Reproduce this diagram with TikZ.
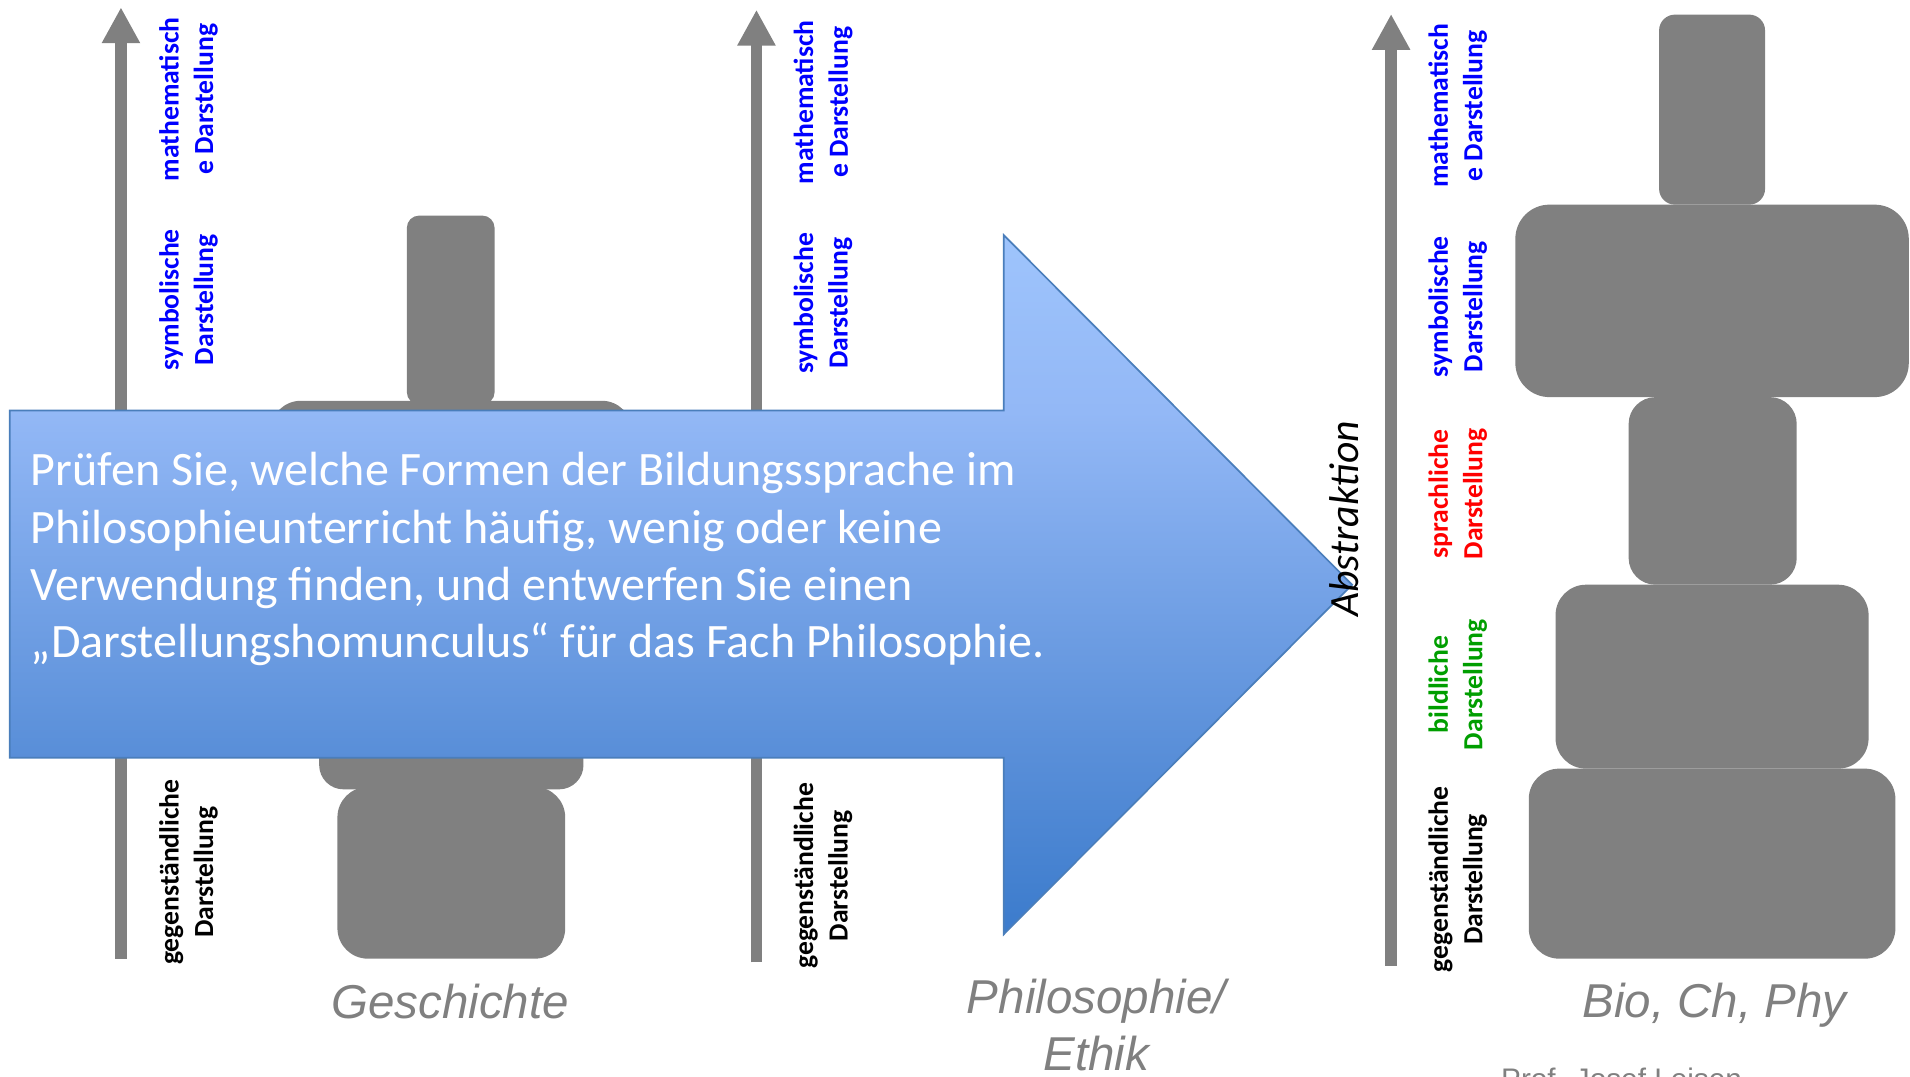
\documentclass[tikz,border=0pt]{standalone}
\usepackage{fontspec}
\usetikzlibrary{arrows.meta}
\newfontfamily\calibri{Carlito}[BoldFont={Carlito Bold},ItalicFont={Carlito Italic}]
\newfontfamily\arialf{Liberation Sans}
\definecolor{hgray}{RGB}{128,128,128}
\definecolor{lblue}{RGB}{0,0,255}
\definecolor{lred}{RGB}{255,0,0}
\definecolor{lgreen}{RGB}{0,158,0}
\definecolor{atop}{RGB}{158,196,252}
\definecolor{ahi}{RGB}{147,184,246}
\definecolor{alo}{RGB}{88,142,216}
\definecolor{abot}{RGB}{59,123,204}
\definecolor{aborder}{RGB}{74,126,187}
\pgfdeclareverticalshading{arrowshade}{100bp}{color(0bp)=(abot); color(25bp)=(abot); color(37.6bp)=(alo); color(62.4bp)=(ahi); color(75bp)=(atop); color(100bp)=(atop)}
\begin{document}
\begin{tikzpicture}[x=0.5pt,y=-0.5pt,
  hshape/.style={fill=hgray},
  axisarrow/.style={draw=hgray, line width=4.75pt, -{Triangle[width=14.75pt,length=14.75pt]}},
  vlabel/.style={rotate=90, align=center, inner sep=0pt, font=\calibri\bfseries\fontsize{11.35}{14.2}\selectfont},
  subj/.style={text=hgray, inner sep=0pt, font=\arialf\itshape\fontsize{19.5}{23.5}\selectfont},
  bigarrow/.style={shading=arrowshade, draw=aborder, line width=0.7pt, line join=miter},
  maintext/.style={text=white, align=left, inner sep=0pt, font=\calibri\fontsize{19.7}{23.5}\selectfont}
]
\path[use as bounding box] (0,0) rectangle (1568,884);
\clip (0,0) rectangle (1568,884);

% Geschichte homunculus
\fill[hshape, rounded corners=5pt] (334,177) rectangle (406,332);
\fill[hshape, rounded corners=12.5pt] (222,329) rectangle (519,480);
\fill[hshape, rounded corners=10pt] (262,560) rectangle (479,648);
\fill[hshape, rounded corners=12.5pt] (277,646) rectangle (464,787);

% Bio/Ch/Phy homunculus
\fill[hshape, rounded corners=6.5pt] (1362,12) rectangle (1449,168);
\fill[hshape, rounded corners=14pt] (1244,168) rectangle (1567,326);
\fill[hshape, rounded corners=11pt] (1337,326) rectangle (1475,480);
\fill[hshape, rounded corners=12.5pt] (1277,480) rectangle (1534,631);
\fill[hshape, rounded corners=12.5pt] (1255,631) rectangle (1556,787);

% axis arrows
\coordinate (g1b) at (99.3,787);
\coordinate (g1t) at (99.3,6);
\coordinate (g2b) at (621,790);
\coordinate (g2t) at (621,8);
\coordinate (g3b) at (1142,793);
\coordinate (g3t) at (1142,11.5);
\draw[axisarrow] (g1b) -- (g1t);
\draw[axisarrow] (g2b) -- (g2t);
\draw[axisarrow] (g3b) -- (g3t);

% labels column 1
\node[vlabel, text=lblue] (m1) at (154.7,81.5) {mathematisch\\e Darstellung};
\node[vlabel, text=lblue] (s1) at (154.7,246) {symbolische\\Darstellung};
\node[vlabel, text=black] (o1) at (154.7,716) {gegenständliche\\Darstellung};
% labels column 2
\node[vlabel, text=lblue] (m2) at (675.7,84) {mathematisch\\e Darstellung};
\node[vlabel, text=lblue] (s2) at (675.7,249) {symbolische\\Darstellung};
\node[vlabel, text=black] (o2) at (675.7,719) {gegenständliche\\Darstellung};
% labels column 3
\node[vlabel, text=lblue] (m3) at (1196.7,87) {mathematisch\\e Darstellung};
\node[vlabel, text=lblue] (s3) at (1196.7,251.7) {symbolische\\Darstellung};
\node[vlabel, text=lred] (p3) at (1196.7,405.5) {sprachliche\\Darstellung};
\node[vlabel, text=lgreen] (b3) at (1196.7,562) {bildliche\\Darstellung};
\node[vlabel, text=black] (o3) at (1196.7,722) {gegenständliche\\Darstellung};

% big blue arrow
\path[bigarrow] (8,337) -- (824,337) -- (824,193) -- (1110,480) -- (824,767) -- (824,622) -- (8,622) -- cycle;
\node[maintext, anchor=west] (task) at (25,459) {Prüfen Sie, welche Formen der Bildungssprache im\\Philosophieunterricht häufig, wenig oder keine\\Verwendung finden, und entwerfen Sie einen\\„Darstellungshomunculus“ für das Fach Philosophie.};

\node[rotate=90, anchor=base, inner sep=0pt, font=\calibri\itshape\fontsize{17.1}{20}\selectfont] (abs) at (1115,426) {Abstraktion};

% subject names
\node[subj, anchor=base] (gesch) at (369.5,836) {Geschichte};
\node[subj, anchor=north, align=center] (phil) at (900,803) {Philosophie/\\Ethik};
\node[subj, anchor=base] (bio) at (1407.5,835) {Bio, Ch, Phy};
\node[anchor=base west, inner sep=0pt, text=hgray, font=\arialf\fontsize{12.2}{14}\selectfont] (prof) at (1232,894.5) {Prof. Josef Leisen};
\end{tikzpicture}
\end{document}
